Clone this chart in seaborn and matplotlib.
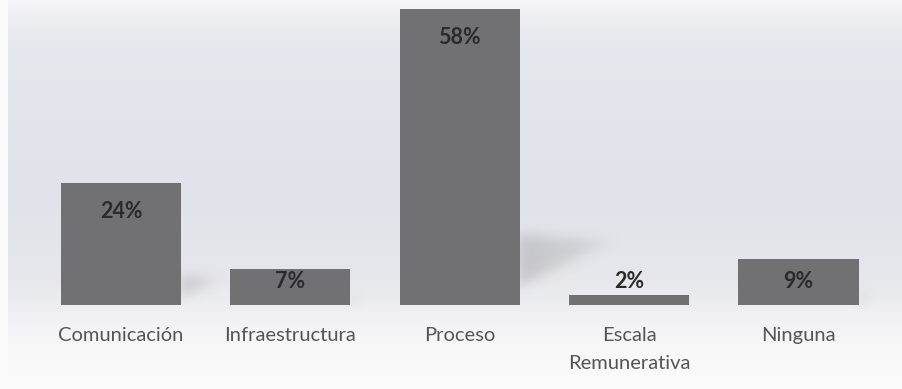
import numpy as np
import pandas as pd
import matplotlib
matplotlib.use("Agg")
import matplotlib.pyplot as plt
import seaborn as sns

# Data
categories = ["Comunicación", "Infraestructura", "Proceso", "Escala\nRemunerativa", "Ninguna"]
percentages = [24, 7, 58, 2, 9]

df = pd.DataFrame({"categoria": categories, "porcentaje": percentages})

sns.set_theme(style="white")
plt.rcParams["font.family"] = ["Lato", "DejaVu Sans"]

W, H, DPI = 903, 389, 100
fig = plt.figure(figsize=(W / DPI, H / DPI), dpi=DPI)
fig.patch.set_facecolor("#fafafa")

# Soft vertical gradient behind the plot
bg = fig.add_axes([8 / W, 2 / H, 1 - 8 / W, 1 - 2 / H], zorder=0)
stops_y = [0.0, 0.04, 0.12, 0.5, 0.72, 0.82, 0.9, 1.0]
stops_c = [
    (0.965, 0.968, 0.975),
    (0.935, 0.937, 0.950),
    (0.902, 0.905, 0.930),
    (0.886, 0.889, 0.918),
    (0.903, 0.905, 0.925),
    (0.945, 0.946, 0.955),
    (0.972, 0.972, 0.976),
    (0.985, 0.985, 0.985),
]
ys = np.linspace(0, 1, H)
grad = np.stack([np.interp(ys, stops_y, [c[i] for c in stops_c]) for i in range(3)], axis=-1)
grad = np.repeat(grad[:, None, :], 4, axis=1)
bg.imshow(grad, aspect="auto", extent=[0, 1, 0, 1], origin="upper")
bg.set_axis_off()

# Main bar axes
left_px, right_px = 36.3, 883.2
base_px, top_px = 305, 9
ax = fig.add_axes([left_px / W, (H - base_px) / H,
                   (right_px - left_px) / W, (base_px - top_px) / H], zorder=2)
ax.patch.set_alpha(0)

bar_color = "#717173"
sns.barplot(data=df, x="categoria", y="porcentaje", color=bar_color,
            width=0.71, saturation=1, linewidth=0, ax=ax, zorder=3)
ax.set_xlim(-0.5, len(categories) - 0.5)
ax.set_ylim(0, 58)

# Blurred wedge-shaped shadows cast by each bar onto the backdrop
shadow_ax = fig.add_axes([0, 0, 1, 1], zorder=1)
shadow_ax.set_axis_off()
alpha = np.zeros((H, W))
yy, xx = np.mgrid[0:H, 0:W].astype(float)
px_per_unit = (base_px - top_px) / 58
for i, v in enumerate(percentages):
    h = v * px_per_unit
    right_edge = left_px + (i + 0.5 + 0.355) * (right_px - left_px) / len(categories)
    length = 0.32 * h
    t = (xx - right_edge) / max(length, 1)
    top_y = base_px - 0.24 * h + t * 0.02 * h
    bot_y = base_px - 0.07 * h - t * 0.15 * h
    inside = (t >= -0.02) & (t <= 1) & (yy >= top_y) & (yy <= bot_y)
    alpha = np.maximum(alpha, inside * (1 - 0.6 * np.clip(t, 0, 1)))


def blur(a, sigma):
    r = int(3 * sigma)
    k = np.exp(-0.5 * (np.arange(-r, r + 1) / sigma) ** 2)
    k /= k.sum()
    a = np.apply_along_axis(lambda m: np.convolve(m, k, mode="same"), 0, a)
    a = np.apply_along_axis(lambda m: np.convolve(m, k, mode="same"), 1, a)
    return a


alpha = blur(alpha, 6) * 0.32
shadow = np.zeros((H, W, 4))
shadow[..., :3] = 0.5
shadow[..., 3] = alpha
shadow_ax.imshow(shadow, extent=[0, 1, 0, 1], aspect="auto", origin="upper")
shadow_ax.set_xlim(0, 1)
shadow_ax.set_ylim(0, 1)

# Value labels near the top of each bar
for i, v in enumerate(percentages):
    y_lab = max(v - 5.6, 4.6)
    ax.text(i, y_lab, f"{v}%", ha="center", va="center", fontsize=15.5,
            fontweight="bold", color="#2a2a2a", zorder=5)

ax.set_xlabel("")
ax.set_ylabel("")
ax.set_yticks([])
ax.tick_params(axis="x", length=0, pad=16, labelsize=14.5, labelcolor="#555555")
for lab in ax.get_xticklabels():
    lab.set_linespacing(1.75)
for spine in ax.spines.values():
    spine.set_visible(False)

fig.savefig("out.png", dpi=DPI, facecolor=fig.get_facecolor())
